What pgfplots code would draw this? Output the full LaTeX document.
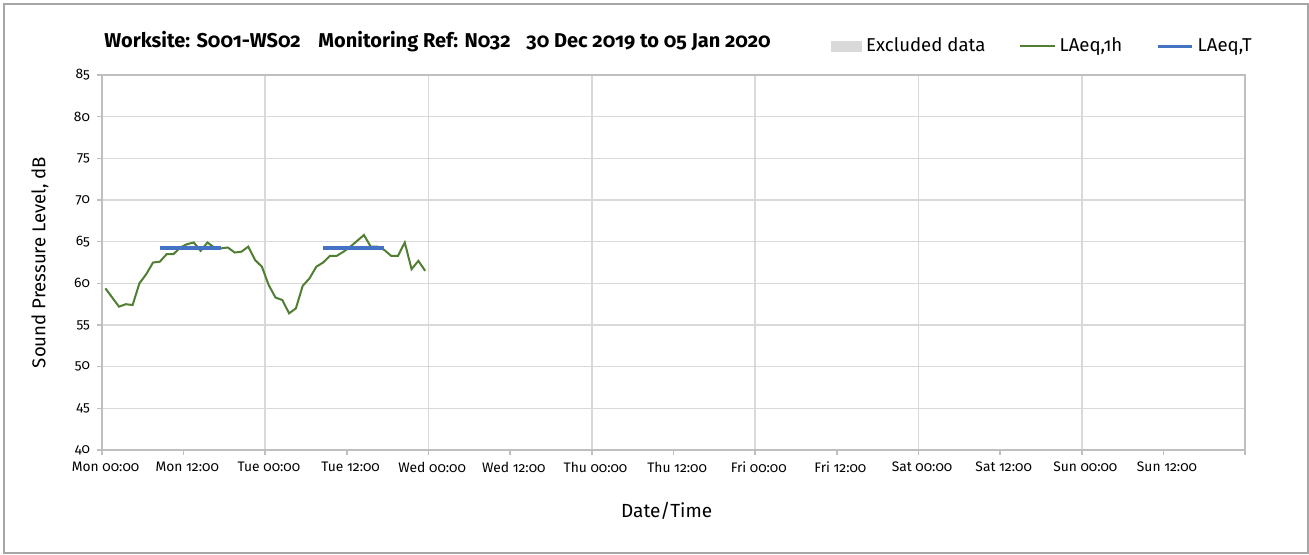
\documentclass[border=0pt]{standalone}
\usepackage{fontspec}
\setmainfont{Fira Sans}[Numbers=OldStyle]
\usepackage{pgfplots}
\usepackage{pgfplotstable}
\pgfplotsset{compat=1.18}

\definecolor{lineGreen}{HTML}{507E32}
\definecolor{lineBlue}{HTML}{4472C4}
\definecolor{gridGray}{HTML}{D9D9D9}
\definecolor{axisGray}{HTML}{BFBFBF}
\definecolor{frameGray}{HTML}{A6A6A6}

% hourly LAeq, hours since Mon 00:00
\pgfplotstableread{
h db
0.5 59.4
1.5 58.3
2.5 57.2
3.5 57.5
4.5 57.4
5.5 60.0
6.5 61.1
7.5 62.5
8.5 62.6
9.5 63.5
10.5 63.5
11.5 64.3
12.5 64.7
13.5 64.9
14.5 63.9
15.5 64.9
16.5 64.3
17.5 64.2
18.5 64.3
19.5 63.7
20.5 63.8
21.5 64.4
22.5 62.8
23.5 62.0
24.5 59.8
25.5 58.3
26.5 58.0
27.5 56.4
28.5 57.0
29.5 59.7
30.5 60.6
31.5 62.0
32.5 62.5
33.5 63.3
34.5 63.3
35.5 63.8
36.5 64.4
37.5 65.1
38.5 65.8
39.5 64.4
40.5 64.4
41.5 64.0
42.5 63.3
43.5 63.3
44.5 64.9
45.5 61.7
46.5 62.7
47.5 61.5
}\hourly

\begin{document}
\begin{tikzpicture}
\useasboundingbox (-51pt,-52pt) rectangle (603.5pt,225pt);
\draw[draw=frameGray, line width=0.6pt] (-49pt,-51.5pt) rectangle (603pt,223pt);
\begin{axis}[
at={(0,0)}, anchor=south west,
scale only axis,
width=571.5pt, height=187.5pt,
xmin=0, xmax=168,
ymin=40, ymax=85,
ytick={40,45,...,85},
yticklabels={40,45,50,55,60,65,70,75,80,85},
xtick={0,24,...,168},
xticklabels={Mon 00:00,Tue 00:00,Wed 00:00,Thu 00:00,Fri 00:00,Sat 00:00,Sun 00:00,},
extra x ticks={12,36,...,156},
extra x tick labels={Mon 12:00,Tue 12:00,Wed 12:00,Thu 12:00,Fri 12:00,Sat 12:00,Sun 12:00},
extra x tick style={grid=none},
xmajorgrids, ymajorgrids,
grid style={draw=gridGray, line width=0.8pt},
axis line style={draw=axisGray, line width=0.8pt},
tick style={draw=axisGray, line width=0.8pt},
tick align=outside,
major tick length=2.5pt,
xtick pos=bottom, ytick pos=left,
ticklabel style={font=\fontsize{6.9}{8}\selectfont},
xticklabel style={xshift=1.8pt},
xlabel={Date/Time},
ylabel={Sound Pressure Level, dB},
every axis x label/.style={at={(axis description cs:0.494,-0.163)}, anchor=center, font=\fontsize{9.5}{11}\selectfont},
every axis y label/.style={at={(axis description cs:-0.0543,0.5)}, rotate=90, anchor=center, font=\fontsize{9.3}{11}\selectfont},
legend columns=3,
legend style={at={(axis description cs:1.015,1.077)}, anchor=east, draw=none, fill=none,
  font=\fontsize{9.3}{11}\selectfont,
  nodes={text height=1.5ex, text depth=0.4ex},
  /tikz/every even column/.append style={column sep=15pt}},
legend cell align=left,
clip=false,
]
\addlegendimage{legend image code/.code={\fill[gridGray] (0pt,-2.6pt) rectangle (15pt,2.6pt);}}
\addlegendentry{Excluded data}
\addplot[lineGreen, line width=1pt, mark=none] table[x=h, y=db] {\hourly};
\addlegendentry{LAeq,1h}
\addplot[lineBlue, line width=1.6pt, mark=none] coordinates {(8.5,64.25) (17.5,64.25)};
\addlegendentry{LAeq,T}
\addplot[lineBlue, line width=1.6pt, mark=none, forget plot] coordinates {(32.5,64.25) (41.5,64.25)};

\node[anchor=base west, inner sep=0pt, font=\bfseries\fontsize{10}{12}\selectfont] at (axis description cs:0.0017,1.0747) {Worksite: S001-WS02};
\node[anchor=base west, inner sep=0pt, font=\bfseries\fontsize{10}{12}\selectfont] at (axis description cs:0.189,1.0747) {Monitoring Ref: N032};
\node[anchor=base west, inner sep=0pt, font=\bfseries\fontsize{10}{12}\selectfont] at (axis description cs:0.371,1.0747) {30 Dec 2019 to 05 Jan 2020};
\end{axis}
\end{tikzpicture}
\end{document}
